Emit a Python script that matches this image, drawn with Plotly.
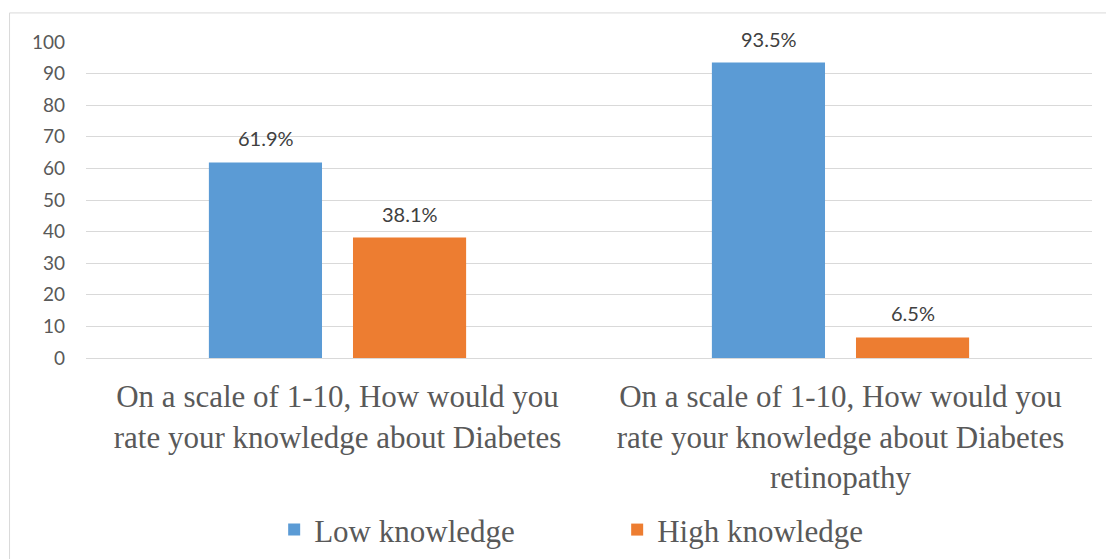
import plotly.graph_objects as go

categories = [
    "On a scale of 1-10, How would you<br>rate your knowledge about Diabetes",
    "On a scale of 1-10, How would you<br>rate your knowledge about Diabetes<br>retinopathy",
]
series_names = ["Low knowledge", "High knowledge"]
low_values = [61.9, 93.5]
high_values = [38.1, 6.5]
colors = ["#5B9BD5", "#ED7D31"]
y_ticks = list(range(0, 101, 10))

SERIF = "Liberation Serif"

fig = go.Figure()
for name, vals, col in zip(series_names, [low_values, high_values], colors):
    fig.add_trace(go.Bar(x=categories, y=vals, name=name, marker_color=col,
                         marker_line_width=0))

annotations = []
for i, vals in enumerate([low_values, high_values]):
    shift = -72 if i == 0 else 72
    for c, v in zip(categories, vals):
        annotations.append(dict(x=c, y=v, text=f"{v}%", showarrow=False,
                                xshift=shift, yshift=24, yanchor="middle",
                                font=dict(family="Lato, Carlito, sans-serif", size=20, color="#404040")))

fig.update_layout(
    width=1106, height=559,
    margin=dict(l=86, r=14, t=42, b=201),
    font=dict(family=SERIF, color="#595959"),
    paper_bgcolor="white", plot_bgcolor="white",
    barmode="group", bargap=0.427, bargroupgap=0.215,
    showlegend=True,
    legend=dict(orientation="h", x=0.528, xanchor="center",
                yref="container", y=0.052, yanchor="middle",
                font=dict(family=SERIF, size=31, color="#595959"),
                itemwidth=30, traceorder="normal", entrywidth=298),
    annotations=annotations,
    shapes=[dict(type="rect", xref="paper", yref="paper", x0=-0.076, x1=1.02, y0=-1.0, y1=1.092,
                 line=dict(color="#D9D9D9", width=1))],
)
fig.update_xaxes(tickfont=dict(family=SERIF, size=31, color="#595959"),
                 showline=True, linecolor="#D9D9D9", ticklabelstandoff=11, automargin=False)
fig.update_yaxes(range=[0, 100], tickvals=y_ticks, showgrid=True, gridcolor="#D9D9D9",
                 tickfont=dict(family="Lato, sans-serif", size=19, color="#595959"),
                 ticklabelstandoff=20, zeroline=False, automargin=False)

fig.write_html("out.html")
